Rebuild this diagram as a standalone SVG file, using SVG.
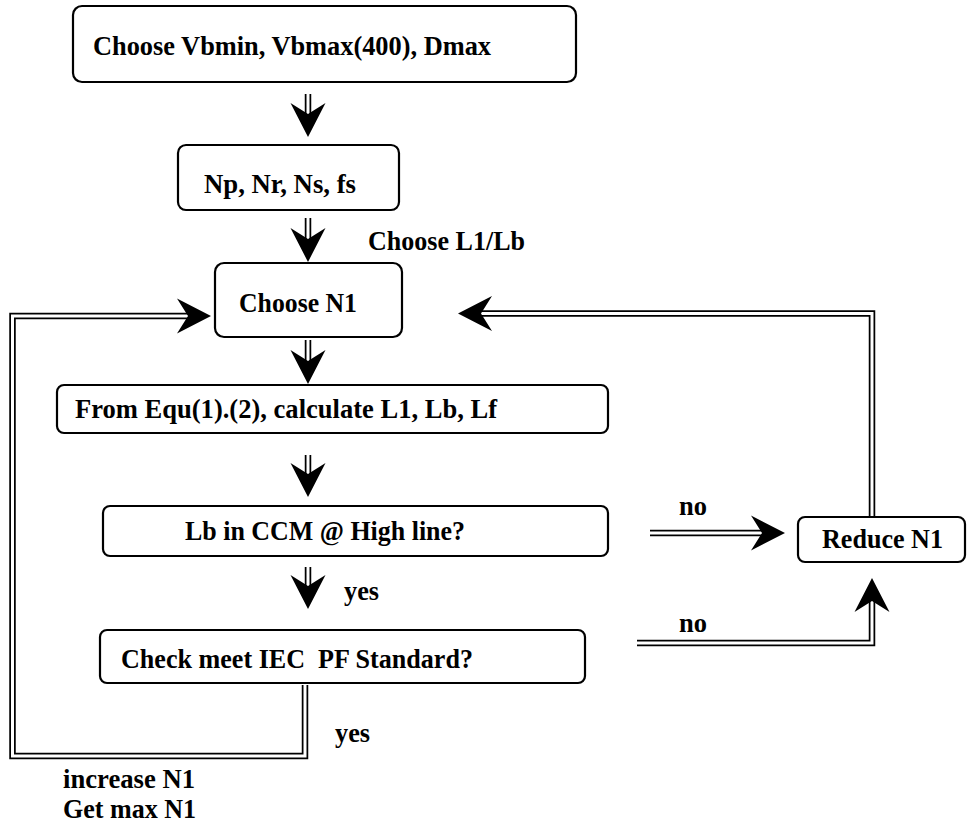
<svg xmlns="http://www.w3.org/2000/svg" width="977" height="824" viewBox="0 0 977 824">
<style>
.box{fill:#fff;stroke:#000;stroke-width:2.2}
.t{font-family:"Liberation Serif","Times New Roman",serif;font-weight:bold;font-size:28px;fill:#000}
.dl{fill:none;stroke:#000;stroke-width:6.5;stroke-linejoin:miter}
.dw{fill:none;stroke:#fff;stroke-width:3;stroke-linejoin:miter}
.hd{fill:#000}
</style>
<defs>
<path id="head" d="M0,0 L-17.5,-34 L0,-23 L17.5,-34 Z"/>
</defs>
<rect width="977" height="824" fill="#fff"/>
<g id="connectors">
  <path class="dl" d="M308,94 V117"/><path class="dw" d="M308,94 V117"/>
  <use href="#head" class="hd" transform="translate(308,137)"/>
  <path class="dl" d="M308,218 V242"/><path class="dw" d="M308,218 V242"/>
  <use href="#head" class="hd" transform="translate(308,262)"/>
  <path class="dl" d="M308,340 V364"/><path class="dw" d="M308,340 V364"/>
  <use href="#head" class="hd" transform="translate(308,384)"/>
  <path class="dl" d="M308,455 V477"/><path class="dw" d="M308,455 V477"/>
  <use href="#head" class="hd" transform="translate(308,497)"/>
  <path class="dl" d="M308,567 V588"/><path class="dw" d="M308,567 V588"/>
  <use href="#head" class="hd" transform="translate(308,609)"/>
  <path class="dl" d="M650,533 H765"/><path class="dw" d="M650,533 H765"/>
  <use href="#head" class="hd" transform="translate(785,533) rotate(-90)"/>
  <path class="dl" d="M637,643 H872 V598"/><path class="dw" d="M637,643 H872 V598"/>
  <use href="#head" class="hd" transform="translate(872,578) rotate(180)"/>
  <path class="dl" d="M872,517 V313.5 H480"/><path class="dw" d="M872,517 V313.5 H480"/>
  <use href="#head" class="hd" transform="translate(458,313.5) rotate(90)"/>
  <path class="dl" d="M305,685 V756 H12.5 V316 H190"/><path class="dw" d="M305,685 V756 H12.5 V316 H190"/>
  <use href="#head" class="hd" transform="translate(211,316) rotate(-90)"/>
</g>
<g id="n1"><rect class="box" x="73" y="6" width="503" height="76" rx="9"/><text class="t" x="93" y="55" textLength="398" lengthAdjust="spacingAndGlyphs">Choose Vbmin, Vbmax(400), Dmax</text></g>
<g id="n2"><rect class="box" x="178" y="145" width="221" height="65" rx="8"/><text class="t" x="204" y="193" textLength="152" lengthAdjust="spacingAndGlyphs">Np, Nr, Ns, fs</text></g>
<g id="lbl-l1lb"><text class="t" x="368" y="250" textLength="157" lengthAdjust="spacingAndGlyphs">Choose L1/Lb</text></g>
<g id="n3"><rect class="box" x="215" y="263" width="187" height="74" rx="9"/><text class="t" x="239" y="312" textLength="118" lengthAdjust="spacingAndGlyphs">Choose N1</text></g>
<g id="n4"><rect class="box" x="57" y="385" width="551" height="48" rx="7"/><text class="t" x="75" y="418" textLength="422" lengthAdjust="spacingAndGlyphs">From Equ(1).(2), calculate L1, Lb, Lf</text></g>
<g id="n5"><rect class="box" x="103" y="506" width="505" height="50" rx="7"/><text class="t" x="185" y="540" textLength="280" lengthAdjust="spacingAndGlyphs">Lb in CCM @ High line?</text></g>
<g id="n6"><rect class="box" x="100" y="630" width="485" height="53" rx="7"/><text class="t" x="121" y="668" textLength="352" lengthAdjust="spacingAndGlyphs">Check meet IEC&#160; PF Standard?</text></g>
<g id="n7"><rect class="box" x="798" y="517" width="167" height="45" rx="7"/><text class="t" x="822" y="548" textLength="121" lengthAdjust="spacingAndGlyphs">Reduce N1</text></g>
<g id="labels">
  <text class="t" x="344" y="600" textLength="35" lengthAdjust="spacingAndGlyphs">yes</text>
  <text class="t" x="679" y="515" textLength="28" lengthAdjust="spacingAndGlyphs">no</text>
  <text class="t" x="679" y="632" textLength="28" lengthAdjust="spacingAndGlyphs">no</text>
  <text class="t" x="335" y="742" textLength="35" lengthAdjust="spacingAndGlyphs">yes</text>
  <text class="t" x="63" y="788" textLength="132" lengthAdjust="spacingAndGlyphs">increase N1</text>
  <text class="t" x="63" y="818" textLength="133" lengthAdjust="spacingAndGlyphs">Get max N1</text>
</g>
</svg>
